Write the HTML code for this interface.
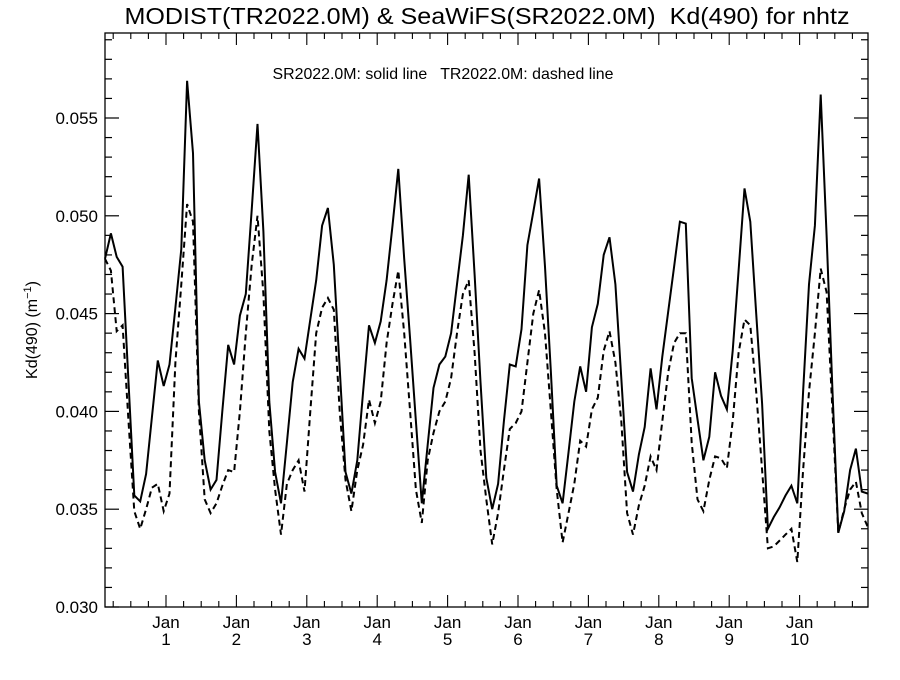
<!DOCTYPE html>
<html><head><meta charset="utf-8"><style>
html,body{margin:0;padding:0;background:#fff;}
svg text{font-family:"Liberation Sans",Arial,sans-serif;fill:#000;}
</style></head><body>
<svg id="chart" width="900" height="675" viewBox="0 0 900 675" xmlns="http://www.w3.org/2000/svg">
<text x="487" y="24" font-size="23" text-anchor="middle" textLength="725" lengthAdjust="spacingAndGlyphs" xml:space="preserve">MODIST(TR2022.0M) &amp; SeaWiFS(SR2022.0M)  Kd(490) for nhtz</text>
<text x="443" y="79" font-size="16" text-anchor="middle" textLength="341" lengthAdjust="spacingAndGlyphs" xml:space="preserve">SR2022.0M: solid line   TR2022.0M: dashed line</text>
<text transform="translate(37,330) rotate(-90)" font-size="16" text-anchor="middle">Kd(490) (m<tspan baseline-shift="super" font-size="11">−1</tspan>)</text>
<g id="axes"></g>
<g id="series"></g>
<rect x="105" y="33" width="763" height="574" fill="none" stroke="#000" stroke-width="1.3"/>
</svg>
<script>
const yTicks = [0.030, 0.035, 0.040, 0.045, 0.050, 0.055];
const yTickLabels = ["0.030","0.035","0.040","0.045","0.050","0.055"];
const xYearLabels = ["1","2","3","4","5","6","7","8","9","10"];
const solidSR = [.0478,.0491,.0479,.0474,.0415,.0357,.0354,.0368,.0397,.0426,.0413,.0424,.0453,.0483,.0569,.0532,.0405,.0375,.0360,.0365,.0400,.0434,.0424,.0449,.0460,.0503,.0547,.0492,.0405,.0369,.0353,.0384,.0415,.0432,.0427,.0447,.0467,.0495,.0504,.0475,.0422,.0369,.0358,.0375,.0410,.0444,.0435,.0446,.0467,.0495,.0524,.0478,.0437,.0395,.0353,.0383,.0412,.0424,.0428,.0440,.0465,.0490,.0521,.0470,.0415,.0366,.0350,.0363,.0395,.0424,.0423,.0442,.0485,.0502,.0519,.0474,.0420,.0362,.0353,.0379,.0405,.0423,.0410,.0443,.0455,.0480,.0489,.0465,.0417,.0369,.0359,.0378,.0392,.0422,.0401,.0428,.0451,.0474,.0497,.0496,.0417,.0396,.0375,.0387,.0420,.0408,.0401,.0431,.0472,.0514,.0497,.0450,.0404,.0340,.0346,.0351,.0357,.0362,.0353,.0410,.0465,.0495,.0562,.0490,.0410,.0338,.0349,.0370,.0381,.0359,.0358];
const dashedTR = [.0478,.0472,.0441,.0444,.0395,.0349,.0340,.0350,.0361,.0363,.0349,.0358,.0425,.0465,.0506,.0497,.0400,.0355,.0348,.0353,.0362,.0370,.0369,.0400,.0440,.0475,.0500,.0460,.0390,.0360,.0337,.0363,.0370,.0375,.0359,.0400,.0440,.0453,.0458,.0452,.0400,.0365,.0349,.0370,.0383,.0406,.0394,.0405,.0435,.0455,.0472,.0440,.0400,.0360,.0343,.0375,.0389,.0400,.0405,.0417,.0440,.0460,.0467,.0430,.0380,.0355,.0332,.0348,.0370,.0391,.0394,.0400,.0425,.0450,.0462,.0440,.0400,.0360,.0333,.0348,.0363,.0385,.0382,.0401,.0407,.0431,.0441,.0425,.0395,.0348,.0337,.0352,.0362,.0377,.0370,.0395,.0420,.0435,.0440,.0440,.0384,.0355,.0349,.0365,.0377,.0376,.0371,.0395,.0430,.0447,.0444,.0410,.0370,.0330,.0331,.0334,.0337,.0340,.0323,.0370,.0410,.0440,.0473,.0461,.0400,.0338,.0350,.0360,.0364,.0348,.0341];

const NS="http://www.w3.org/2000/svg";
const L=105,R=868,T=33,B=607;
const pxPerMonth=70.4/12, jan1X=166, firstMonth=-10.4;
function yScale(v){return B-(v-0.030)*19560;}
function xMonth(m){return jan1X+m*pxPerMonth;}
function xIndex(i){return xMonth(firstMonth+i);}
function mk(tag,attrs,parent){const e=document.createElementNS(NS,tag);for(const k in attrs)e.setAttribute(k,attrs[k]);parent.appendChild(e);return e;}
const axes=document.getElementById('axes');
for(let k=0;k<=29;k++){
  const v=0.030+k*0.001; const y=yScale(v); if(y<T)break;
  const major=(k%5===0); const len=major?14:7;
  const t1=mk('line',{x1:L,x2:L+len,y1:y,y2:y,stroke:'#000','stroke-width':1.2},axes);
  
  
  const t2=mk('line',{x1:R,x2:R-len,y1:y,y2:y,stroke:'#000','stroke-width':1.2},axes);
  
  
}
yTicks.forEach((v,i)=>{
  const t=mk('text',{x:98,y:yScale(v)+6,'font-size':17,'text-anchor':'end'},axes);
  t.textContent=yTickLabels[i];
  
  
});
for(let q=-4;q<=44;q++){
  const x=xMonth(q*3); if(x<L||x>R)continue;
  const major=(q%4===0); const len=major?12:6;
  const a=mk('line',{x1:x,x2:x,y1:B,y2:B-len,stroke:'#000','stroke-width':1.1},axes);
  
  
  const b=mk('line',{x1:x,x2:x,y1:T,y2:T+len,stroke:'#000','stroke-width':1.1},axes);
  
  
}
xYearLabels.forEach((lab,i)=>{
  const x=xMonth(i*12);
  const t=mk('text',{x:x,y:628,'font-size':17,'text-anchor':'middle'},axes);
  t.textContent='Jan';
  
  
  const n=mk('text',{x:x,y:645,'font-size':17,'text-anchor':'middle'},axes);
  n.textContent=lab;
  
  
});
const series=document.getElementById('series');
function pts(arr){return arr.map((v,i)=>xIndex(i).toFixed(1)+','+yScale(v).toFixed(1)).join(' ');}
const s=mk('polyline',{points:pts(solidSR),fill:'none',stroke:'#000','stroke-width':2,'stroke-linejoin':'miter'},series);


const d=mk('polyline',{points:pts(dashedTR),fill:'none',stroke:'#000','stroke-width':2,'stroke-dasharray':'6,4'},series);


</script>
</body></html>
